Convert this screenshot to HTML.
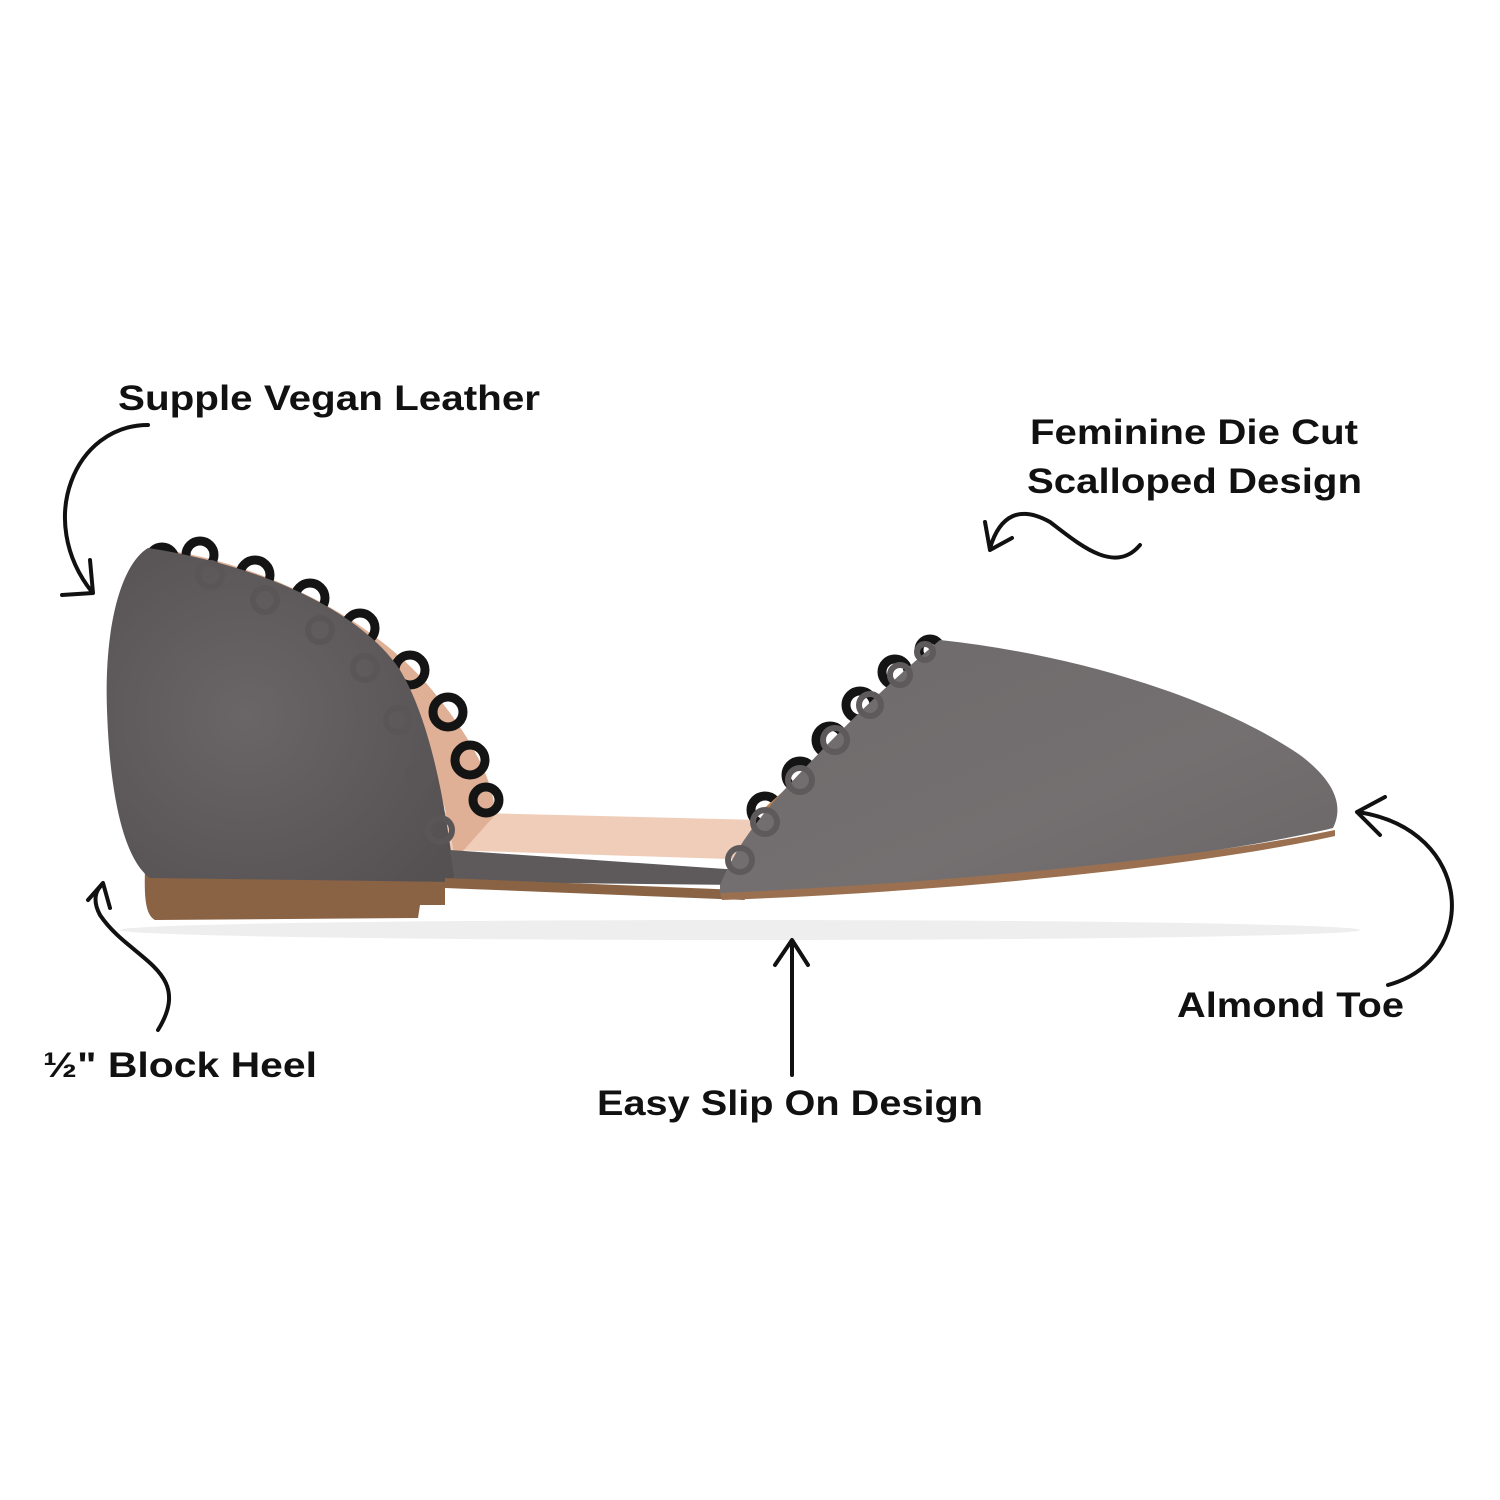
<!DOCTYPE html>
<html><head><meta charset="utf-8"><style>
html,body{margin:0;padding:0;background:#fff;}
svg{display:block}
text{font-family:"Liberation Sans",sans-serif;font-weight:bold;font-size:35px;fill:#111}
</style></head><body>
<svg width="1500" height="1500" viewBox="0 0 1500 1500" xmlns="http://www.w3.org/2000/svg">
<rect width="1500" height="1500" fill="#fff"/>
<defs>
<radialGradient id="g1" cx="0.4" cy="0.5" r="0.7"><stop offset="0" stop-color="#6a6668"/><stop offset="1" stop-color="#555153"/></radialGradient>
<linearGradient id="g2" x1="0" y1="0" x2="1" y2="1"><stop offset="0" stop-color="#6e6a6b"/><stop offset="0.6" stop-color="#747071"/><stop offset="1" stop-color="#6a6667"/></linearGradient>
</defs>
<ellipse cx="740" cy="930" rx="620" ry="10" fill="#eee"/>
<path d="M440,812 L760,820 L760,860 L445,850 Z" fill="#f0cdb8"/>
<path d="M145,870 L445,872 L445,905 L420,905 L418,918 L155,920 C146,915 144,900 145,870 Z" fill="#8a6244"/>
<path d="M150,548 C260,560 380,620 440,700 C480,750 495,790 495,815 L455,860 C440,760 400,660 300,600 Z" fill="#e0b096"/>
<g fill="none" stroke="#141414" stroke-width="9">
<circle cx="162" cy="560" r="13"/><circle cx="200" cy="555" r="14"/><circle cx="255" cy="575" r="15"/><circle cx="310" cy="598" r="15"/><circle cx="360" cy="628" r="15"/><circle cx="410" cy="670" r="15"/><circle cx="448" cy="712" r="15"/><circle cx="470" cy="760" r="15"/><circle cx="486" cy="800" r="13"/>
</g>
<path d="M148,548 C120,565 104,630 107,710 C110,800 125,860 150,878 L455,882 C445,800 430,720 400,670 C360,610 260,565 148,548 Z" fill="url(#g1)"/>
<g fill="none" stroke="#5a5658" stroke-width="6">
<circle cx="210" cy="575" r="12"/><circle cx="265" cy="600" r="12"/><circle cx="320" cy="630" r="12"/><circle cx="365" cy="668" r="12"/><circle cx="398" cy="720" r="12"/><circle cx="420" cy="775" r="12"/><circle cx="440" cy="830" r="12"/>
</g>
<path d="M450,850 L740,870 L740,885 L455,882 Z" fill="#5e5a5c"/>
<path d="M445,878 L740,890 L745,900 L445,888 Z" fill="#8a6244"/>
<g fill="none" stroke="#141414" stroke-width="9">
<circle cx="765" cy="810" r="14"/><circle cx="800" cy="775" r="14"/><circle cx="830" cy="740" r="14"/><circle cx="860" cy="705" r="14"/><circle cx="895" cy="672" r="13"/><circle cx="930" cy="650" r="11"/>
</g>
<path d="M760,812 L940,650 L900,870 Z" fill="#c08050"/>
<path d="M720,885 C735,850 750,830 775,800 C830,740 880,690 940,640 C1080,655 1220,700 1300,755 C1340,785 1342,810 1333,828 C1200,860 950,885 720,895 Z" fill="url(#g2)"/>
<g fill="none" stroke="#5e5a5c" stroke-width="6">
<circle cx="740" cy="860" r="12"/><circle cx="765" cy="822" r="12"/><circle cx="800" cy="780" r="12"/><circle cx="835" cy="740" r="12"/><circle cx="870" cy="705" r="11"/><circle cx="900" cy="675" r="10"/><circle cx="925" cy="652" r="8"/>
</g>
<path d="M720,893 C950,883 1200,858 1335,830 L1335,836 C1200,866 950,892 722,900 Z" fill="#9a7050"/>
<g fill="none" stroke="#111" stroke-width="4" stroke-linecap="round" stroke-linejoin="round">
<path d="M148,425 C75,425 35,520 92,592"/><path d="M62,595 L93,593 L90,560"/>
<path d="M1140,545 C1115,575 1080,545 1050,522 C1020,505 1000,515 990,548"/><path d="M985,522 L990,550 L1012,538"/>
<path d="M1388,985 C1480,960 1475,830 1358,812"/><path d="M1385,797 L1357,812 L1380,835"/>
<path d="M792,1075 L792,942"/><path d="M775,965 L792,940 L808,965"/>
<path d="M158,1030 C195,970 130,960 100,915 C92,900 96,890 102,885"/><path d="M88,900 L103,883 L110,908"/>
</g>
<text x="118" y="410" textLength="422" lengthAdjust="spacingAndGlyphs">Supple Vegan Leather</text>
<text x="1030" y="444" textLength="328" lengthAdjust="spacingAndGlyphs">Feminine Die Cut</text>
<text x="1027" y="493" textLength="335" lengthAdjust="spacingAndGlyphs">Scalloped Design</text>
<text x="1177" y="1017" textLength="227" lengthAdjust="spacingAndGlyphs">Almond Toe</text>
<text x="43" y="1077" textLength="274" lengthAdjust="spacingAndGlyphs">½" Block Heel</text>
<text x="597" y="1115" textLength="386" lengthAdjust="spacingAndGlyphs">Easy Slip On Design</text>
</svg>
</body></html>
